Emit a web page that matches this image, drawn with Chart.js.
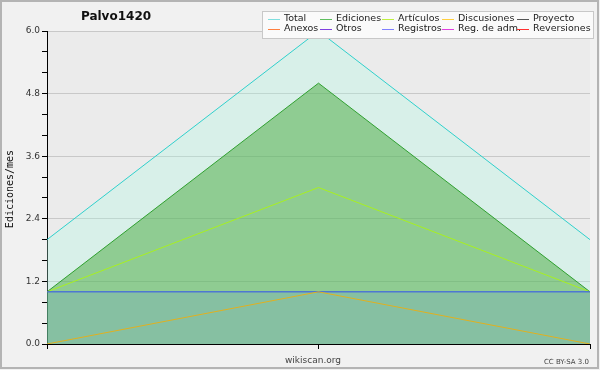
<!DOCTYPE html>
<html><head><meta charset="utf-8">
<script src="https://cdn.jsdelivr.net/npm/chart.js@4.4.0/dist/chart.umd.min.js"></script>
<style>html,body{margin:0;padding:0;background:#fff}#wrap{width:600px;height:370px;position:relative}</style>
</head><body><div id="wrap"><canvas id="c" width="600" height="370"></canvas></div>
<script>
const categories = ['2012-05', '2012-06', '2012-07'];
const total = [2, 6, 2];
const ediciones = [1, 5, 1];
const articulos = [1, 3, 1];
const registros = [1, 1, 1];
const discusiones = [0, 1, 0];
const yTickLabels = ['0.0', '1.2', '2.4', '3.6', '4.8', '6.0'];
const legendLabels = ['Total', 'Ediciones', 'Artículos', 'Discusiones', 'Proyecto', 'Anexos', 'Otros', 'Registros', 'Reg. de adm.', 'Reversiones'];
const legendColors = ['#7fdfdf', '#5fbf5f', '#bfef3f', '#ffcf3f', '#555555', '#ff8040', '#8040e0', '#7f7fff', '#e040e0', '#ff3030'];
const chartTitle = 'Palvo1420';
const yTitle = 'Ediciones/mes';
const xTitle = 'wikiscan.org';
const license = 'CC BY-SA 3.0';

const isMajor = v => Math.abs(v / 1.2 - Math.round(v / 1.2)) < 1e-6;

const decor = {
  id: 'decor',
  beforeDraw(chart) {
    const ctx = chart.ctx, a = chart.chartArea;
    ctx.save();
    ctx.fillStyle = '#f1f1f1';
    ctx.fillRect(0, 0, 600, 370);
    ctx.strokeStyle = '#b4b4b4';
    ctx.lineWidth = 2;
    ctx.strokeRect(1, 1, 597, 367);
    ctx.fillStyle = '#ebebeb';
    ctx.fillRect(a.left, a.top, a.right - a.left, a.bottom - a.top);
    ctx.restore();
  },
  afterDraw(chart) {
    const ctx = chart.ctx;
    ctx.save();
    ctx.fillStyle = '#111';
    ctx.font = 'bold 12px "DejaVu Sans"';
    ctx.textAlign = 'center';
    ctx.textBaseline = 'middle';
    ctx.fillText(chartTitle, 116, 17);
    ctx.font = '10px "DejaVu Sans Mono"';
    ctx.fillStyle = '#111';
    ctx.translate(10, 189);
    ctx.rotate(-Math.PI / 2);
    ctx.fillText(yTitle, 0, 0);
    ctx.restore();
    ctx.save();
    ctx.textBaseline = 'middle';
    ctx.textAlign = 'center';
    ctx.fillStyle = '#444';
    ctx.font = '9px "DejaVu Sans"';
    ctx.fillText(xTitle, 313, 361);
    ctx.font = '7px "DejaVu Sans"';
    ctx.textAlign = 'right';
    ctx.fillText(license, 589, 362);
    // legend
    ctx.fillStyle = '#fafafa';
    ctx.fillRect(262, 11, 331, 27);
    ctx.strokeStyle = '#c8c8c8';
    ctx.lineWidth = 1;
    ctx.strokeRect(262.5, 11.5, 331, 27);
    const colX = [268, 320, 382, 442, 517];
    const rowY = [19, 29];
    ctx.font = '9.5px "DejaVu Sans"';
    ctx.textAlign = 'left';
    legendLabels.forEach((lab, i) => {
      const c = i % 5, r = Math.floor(i / 5);
      const x = colX[c], y = rowY[r];
      ctx.strokeStyle = legendColors[i];
      ctx.beginPath();
      ctx.moveTo(x, y + 0.5);
      ctx.lineTo(x + 12, y + 0.5);
      ctx.stroke();
      ctx.fillStyle = '#222';
      ctx.fillText(lab, x + 16, y);
    });
    ctx.restore();
  }
};

new Chart(document.getElementById('c'), {
  type: 'line',
  data: {
    labels: categories,
    datasets: [
      { label: 'Discusiones', data: discusiones, borderColor: '#e0b020', borderWidth: 1, fill: false, order: 1 },
      { label: 'Registros', data: registros, borderColor: '#3050f0', backgroundColor: 'rgba(98,144,232,0.2)', borderWidth: 1, fill: 'origin', order: 2 },
      { label: 'Artículos', data: articulos, borderColor: '#a8f020', borderWidth: 1, fill: false, order: 3 },
      { label: 'Ediciones', data: ediciones, borderColor: '#30a030', backgroundColor: 'rgba(69,167,60,0.5)', borderWidth: 1, fill: 'origin', order: 4 },
      { label: 'Total', data: total, borderColor: '#30d0cc', backgroundColor: 'rgba(173,253,229,0.3)', borderWidth: 1, fill: 'origin', order: 5 }
    ]
  },
  options: {
    responsive: false,
    animation: false,
    devicePixelRatio: 1,
    elements: { point: { radius: 0 }, line: { tension: 0 } },
    layout: { padding: { top: 31, right: 10, bottom: 26, left: 0 } },
    plugins: { legend: { display: false }, title: { display: false }, tooltip: { enabled: false } },
    scales: {
      x: {
        offset: false,
        ticks: { display: false },
        grid: { drawOnChartArea: false, tickLength: 5, color: '#000', tickColor: '#000' },
        border: { color: '#000', width: 1 },
        afterFit(s) { s.height = 0; }
      },
      y: {
        min: 0, max: 6,
        ticks: {
          stepSize: 0.4,
          autoSkip: false,
          padding: 2,
          color: '#333',
          font: { family: 'DejaVu Sans', size: 9 },
          callback: (v) => isMajor(v) ? yTickLabels[Math.round(v / 1.2)] : ''
        },
        grid: {
          tickLength: 5,
          color: (c) => (c.tick && isMajor(c.tick.value) && c.tick.value > 0) ? '#c8c8c8' : 'rgba(0,0,0,0)',
          tickColor: '#000'
        },
        border: { color: '#000', width: 1 },
        afterFit(s) { s.width = 47; }
      }
    }
  },
  plugins: [decor]
});
</script></body></html>
